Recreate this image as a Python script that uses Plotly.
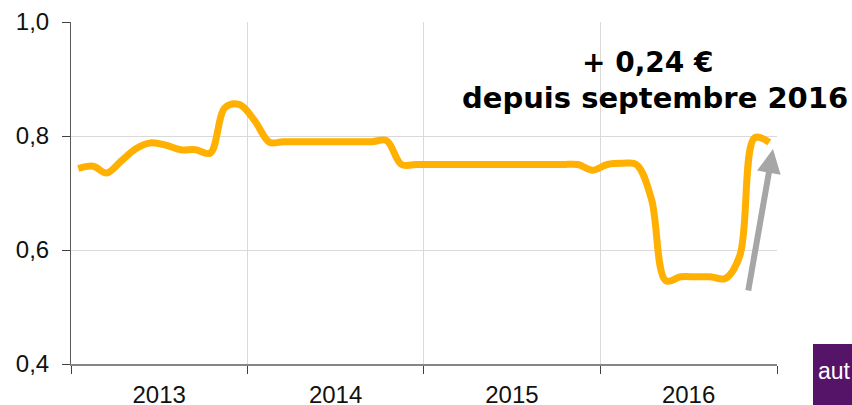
import plotly.graph_objects as go

# ---- data ----
years = [2013, 2014, 2015, 2016]
months = [f"{y}-{m:02d}-16" for y in years for m in range(1, 13)]
prix = [
    0.743, 0.747, 0.735, 0.757, 0.778, 0.788, 0.784, 0.776, 0.776, 0.770, 0.850, 0.855,   # 2013
    0.827, 0.789, 0.790, 0.790, 0.790, 0.790, 0.790, 0.790, 0.790, 0.792, 0.750, 0.750,   # 2014
    0.750, 0.750, 0.750, 0.750, 0.750, 0.750, 0.750, 0.750, 0.750, 0.750, 0.750, 0.740,   # 2015
    0.750, 0.752, 0.750, 0.690, 0.546, 0.553, 0.553, 0.553, 0.550, 0.590, 0.797, 0.789,   # 2016
]
y_ticks = [0.4, 0.6, 0.8, 1.0]
annot_1 = "+ 0,24 €"
annot_2 = "depuis septembre 2016"
corner_text = "aut"

W, H = 852, 405
L, R, T, B = 71, 75, 22, 41
pw, ph = W - L - R, H - T - B

def px_x(x):
    return (x - L) / pw

def px_y(y):
    return (H - B - y) / ph

fig = go.Figure()
fig.add_trace(go.Scatter(
    x=months, y=prix, mode="lines",
    line=dict(color="#FFB000", width=7, shape="spline", smoothing=1.0),
    hoverinfo="skip", showlegend=False,
))

tickfont = dict(family="Liberation Sans, Arial, sans-serif", size=24, color="#111111")

fig.update_layout(
    width=W, height=H,
    margin=dict(l=L, r=R, t=T, b=B, pad=0, autoexpand=False),
    paper_bgcolor="white", plot_bgcolor="white",
    separators=", ",
    showlegend=False,
    xaxis=dict(
        type="date",
        range=["2013-01-01", "2017-01-01"],
        tick0="2013-01-01", dtick="M12", tickformat="%Y",
        ticklabelmode="period",
        ticks="outside", ticklen=8, tickwidth=1, tickcolor="#404040",
        showgrid=True, gridcolor="#D9D9D9", gridwidth=1,
        showline=True, linecolor="#868686", linewidth=2,
        tickfont=tickfont, zeroline=False, fixedrange=True,
    ),
    yaxis=dict(
        range=[0.4, 1.0],
        tickvals=y_ticks, tickformat=".1f",
        ticks="outside", ticklen=8, tickwidth=1, tickcolor="#404040",
        showgrid=True, gridcolor="#D9D9D9", gridwidth=1,
        showline=True, linecolor="#595959", linewidth=1,
        tickfont=tickfont, zeroline=False, fixedrange=True,
        ticklabelstandoff=8,
    ),
)

# gray arrow
fig.add_annotation(
    xref="paper", yref="paper",
    x=px_x(773), y=px_y(149),
    ax=-25, ay=143, axref="pixel", ayref="pixel",
    showarrow=True, arrowhead=2, arrowsize=0.8, arrowwidth=6,
    arrowcolor="#A6A6A6", text="",
)

annfont = dict(family="DejaVu Sans, Verdana, sans-serif", size=28, color="#000000")
fig.add_annotation(
    xref="paper", yref="paper", x=px_x(648), y=px_y(63),
    xanchor="center", yanchor="middle", showarrow=False,
    text=f"<b>{annot_1}</b>", font=annfont,
)
fig.add_annotation(
    xref="paper", yref="paper", x=px_x(850), y=px_y(98),
    xanchor="right", yanchor="middle", showarrow=False,
    text=f"<b>{annot_2}</b>", font=dict(family="DejaVu Sans, Verdana, sans-serif", size=29, color="#000000"),
)

# purple corner box
fig.add_shape(
    type="rect", xref="paper", yref="paper",
    x0=px_x(813), x1=px_x(900), y0=px_y(344), y1=px_y(420),
    fillcolor="#561468", line=dict(width=0), layer="above",
)
fig.add_annotation(
    xref="paper", yref="paper", x=px_x(816), y=px_y(371),
    xanchor="left", yanchor="middle", showarrow=False,
    text=corner_text,
    font=dict(family="Liberation Sans, Arial, sans-serif", size=23, color="white"),
)

fig.write_html(
    "out.html",
    config={"displayModeBar": False},
    post_script="document.body.style.margin='0';document.body.style.overflow='hidden';",
)
